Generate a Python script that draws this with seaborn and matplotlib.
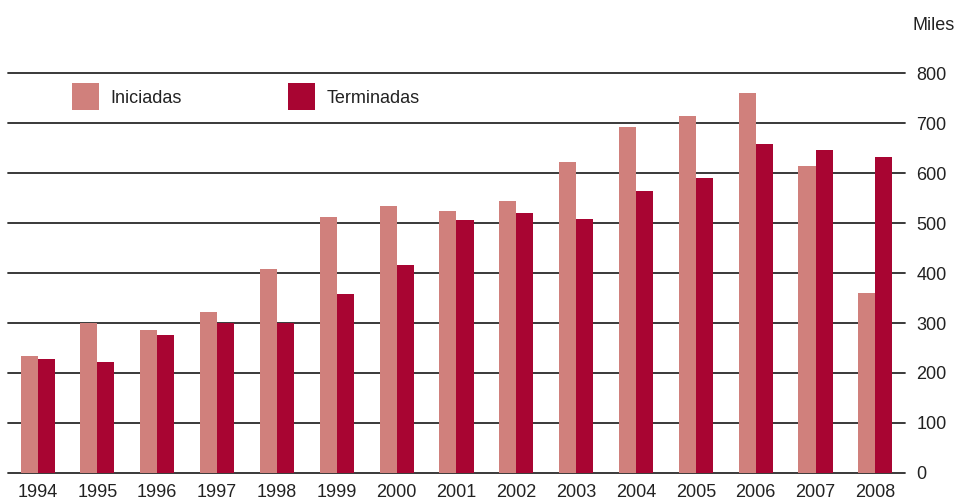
import pandas as pd
import matplotlib.pyplot as plt
import seaborn as sns
from matplotlib.patches import Patch


years = [str(y) for y in range(1994, 2009)]
iniciadas = [235, 301, 287, 323, 408, 513, 535, 525, 545, 622, 693, 715, 761, 615, 361]
terminadas = [229, 221, 277, 300, 300, 359, 417, 507, 521, 509, 565, 591, 659, 647, 633]
series = ["Iniciadas", "Terminadas"]
colors = ["#D0807C", "#A80532"]


def main():
    df = pd.DataFrame({"year": years * 2,
                       "value": iniciadas + terminadas,
                       "serie": [series[0]] * len(years) + [series[1]] * len(years)})

    fig = plt.figure(figsize=(9.6, 5.01), dpi=100)
    ax = fig.add_axes([0.008, 0.056, 0.935, 0.798])

    sns.barplot(data=df, x="year", y="value", hue="serie", palette=colors,
                width=0.57, gap=0, saturation=1, linewidth=0, ax=ax,
                legend=False, zorder=3)

    ax.set_ylim(0, 800)
    ax.set_xlim(-0.5, 14.5)
    ax.set_yticks(range(0, 801, 100))
    ax.yaxis.tick_right()
    ax.grid(axis="y", color="#2a2a2a", linewidth=1.3, zorder=0)
    ax.grid(axis="x", visible=False)
    for line in ax.get_ygridlines():
        line.set_clip_on(False)
    ax.set_axisbelow(True)
    for s in ax.spines.values():
        s.set_visible(False)
    ax.tick_params(axis="both", length=0, labelsize=13, colors="#222222")
    ax.tick_params(axis="y", pad=8)
    ax.tick_params(axis="x", pad=8)
    ax.set_xlabel("")
    ax.set_ylabel("")

    handles = [Patch(facecolor=c, edgecolor="none") for c in colors]
    ax.legend(handles, series, loc="upper left", bbox_to_anchor=(0.054, 1.015),
              ncol=2, frameon=False, fontsize=13, handlelength=1.5, handleheight=1.9,
              handletextpad=0.6, columnspacing=5.9, labelcolor="#222222")

    fig.text(0.95, 0.95, "Miles", fontsize=13, color="#222222", ha="left", va="center")

    fig.savefig("out.png", dpi=100)


if __name__ == "__main__":
    sns.set_style("white")
    plt.rcParams["font.family"] = ["Liberation Sans", "DejaVu Sans"]
    main()
